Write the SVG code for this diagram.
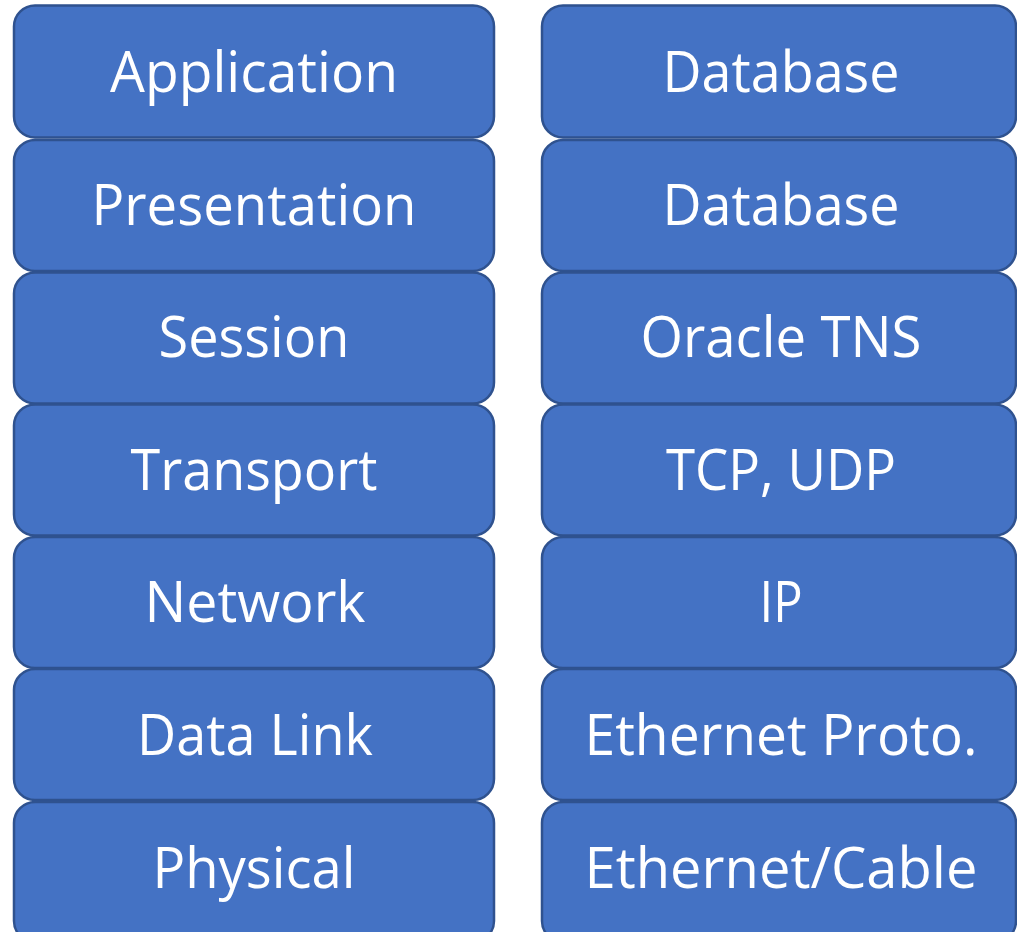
<svg xmlns="http://www.w3.org/2000/svg" width="1017" height="932" viewBox="0 0 1017 932">
<style>
.b{fill:#4472C4;stroke:#2F528F;stroke-width:2.5}
.t{fill:#FFFFFF;font-family:"Open Sans","Noto Sans","Liberation Sans",sans-serif;font-size:56px;text-anchor:middle}
</style>
<rect width="1017" height="932" fill="#FFFFFF"/>
<g id="l1"><rect class="b" x="14" y="5.5" width="480" height="132" rx="21"/><text class="t" x="254" y="92" textLength="288" lengthAdjust="spacingAndGlyphs">Application</text></g>
<g id="l2"><rect class="b" x="14" y="140" width="480" height="131" rx="21"/><text class="t" x="254" y="225" textLength="325" lengthAdjust="spacingAndGlyphs">Presentation</text></g>
<g id="l3"><rect class="b" x="14" y="272.5" width="480" height="131" rx="21"/><text class="t" x="254" y="357" textLength="191" lengthAdjust="spacingAndGlyphs">Session</text></g>
<g id="l4"><rect class="b" x="14" y="404.5" width="480" height="131" rx="21"/><text class="t" x="254" y="490" textLength="247" lengthAdjust="spacingAndGlyphs">Transport</text></g>
<g id="l5"><rect class="b" x="14" y="537" width="480" height="131" rx="21"/><text class="t" x="255" y="622" textLength="221" lengthAdjust="spacingAndGlyphs">Network</text></g>
<g id="l6"><rect class="b" x="14" y="669" width="480" height="131" rx="21"/><text class="t" x="255" y="755" textLength="236" lengthAdjust="spacingAndGlyphs">Data Link</text></g>
<g id="l7"><rect class="b" x="14" y="802" width="480" height="140" rx="21"/><text class="t" x="254" y="888" textLength="203" lengthAdjust="spacingAndGlyphs">Physical</text></g>
<g id="r1"><rect class="b" x="542" y="5.5" width="474" height="132" rx="21"/><text class="t" x="781" y="92" textLength="237" lengthAdjust="spacingAndGlyphs">Database</text></g>
<g id="r2"><rect class="b" x="542" y="140" width="474" height="131" rx="21"/><text class="t" x="781" y="225" textLength="237" lengthAdjust="spacingAndGlyphs">Database</text></g>
<g id="r3"><rect class="b" x="542" y="272.5" width="474" height="131" rx="21"/><text class="t" x="781" y="357" textLength="281" lengthAdjust="spacingAndGlyphs">Oracle TNS</text></g>
<g id="r4"><rect class="b" x="542" y="404.5" width="474" height="131" rx="21"/><text class="t" x="781" y="490" textLength="230" lengthAdjust="spacingAndGlyphs">TCP, UDP</text></g>
<g id="r5"><rect class="b" x="542" y="537" width="474" height="131" rx="21"/><text class="t" x="781" y="622" textLength="43" lengthAdjust="spacingAndGlyphs">IP</text></g>
<g id="r6"><rect class="b" x="542" y="669" width="474" height="131" rx="21"/><text class="t" x="781" y="755" textLength="393" lengthAdjust="spacingAndGlyphs">Ethernet Proto.</text></g>
<g id="r7"><rect class="b" x="542" y="802" width="474" height="140" rx="21"/><text class="t" x="781" y="888" textLength="393" lengthAdjust="spacingAndGlyphs">Ethernet/Cable</text></g>
<g id="connectors"></g>
</svg>
